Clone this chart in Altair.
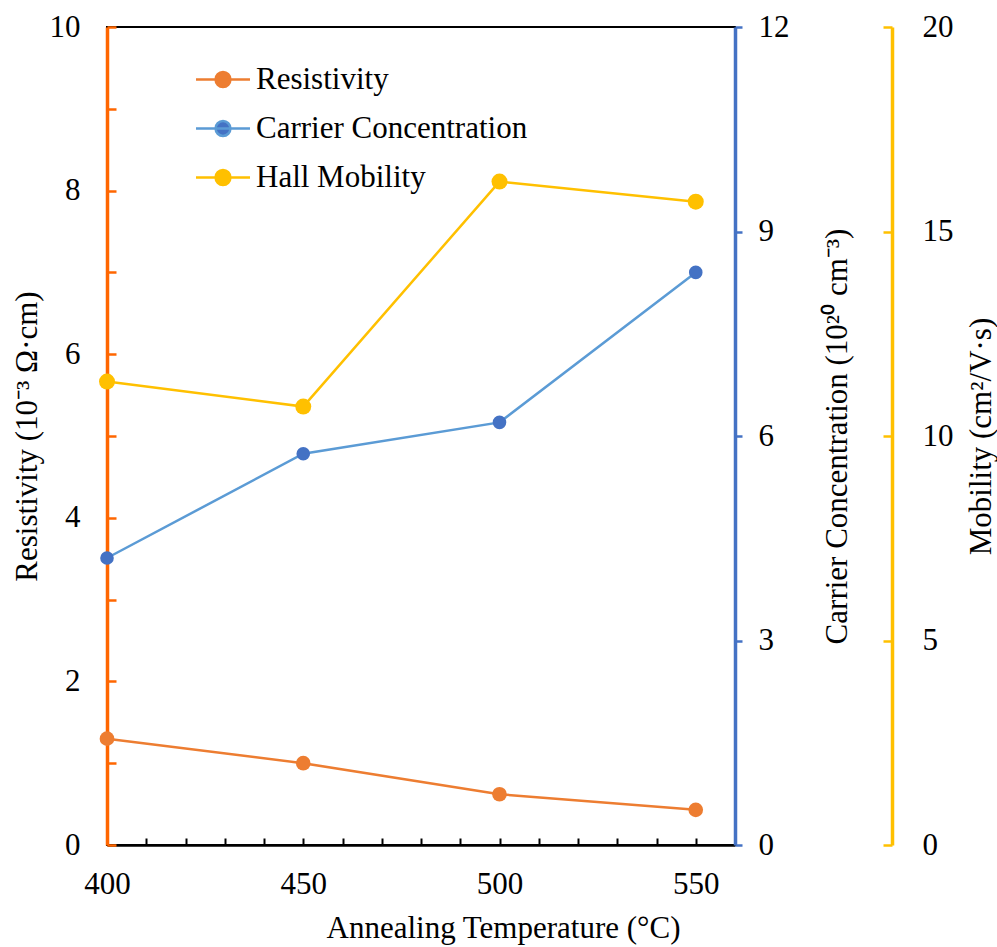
import altair as alt
import pandas as pd

temps = [400, 450, 500, 550]
resistivity = [1.30, 1.00, 0.62, 0.43]
carrier = [4.21, 5.74, 6.20, 8.40]
mobility = [11.33, 10.72, 16.22, 15.73]

series_names = ["Resistivity", "Carrier Concentration", "Hall Mobility"]
line_colors = ["#ED7D31", "#5B9BD5", "#FFC000"]
marker_colors = ["#ED7D31", "#4472C4", "#FFC000"]

x_ticks = list(range(400, 561, 10))
res_ticks = list(range(0, 11))
car_ticks = [0, 3, 6, 9, 12]
mob_ticks = [0, 5, 10, 15, 20]

rows = []
for name, vals in zip(series_names, [resistivity, carrier, mobility]):
    for t, v in zip(temps, vals):
        rows.append({"temp": t, "value": v, "series": name})
df = pd.DataFrame(rows)

FONT = "Liberation Serif"
FS = 31

legend = alt.Legend(
    title=None,
    orient="none",
    legendX=100.5,
    legendY=37,
    padding=0,
    symbolType="M-2,0L2,0M0.55,0A0.55,0.55,0,1,1,-0.55,0A0.55,0.55,0,1,1,0.55,0Z",
    symbolSize=729,
    symbolStrokeWidth=2.5,
    symbolOffset=0,
    labelOffset=17.5,
    labelFont=FONT,
    labelFontSize=FS,
    labelColor="black",
    rowPadding=17,
    labelLimit=400,
)

stroke_enc = alt.Stroke(
    "series:N", scale=alt.Scale(domain=series_names, range=line_colors), legend=legend
)
fill_enc = alt.Fill(
    "series:N", scale=alt.Scale(domain=series_names, range=marker_colors), legend=legend
)

x_enc = alt.X(
    "temp:Q",
    scale=alt.Scale(domain=[400, 560], nice=False, zero=False),
    axis=alt.Axis(
        title="Annealing Temperature (°C)",
        values=x_ticks,
        labelExpr="datum.value % 50 == 0 ? datum.label : ''",
        labelFlush=False,
        labelOverlap=False,
        grid=False,
        domainColor="black",
        domainWidth=2.5,
        tickColor="black",
        tickWidth=2,
        tickSize={"expr": "-7"},
        labelPadding=31,
        labelFont=FONT,
        labelFontSize=FS,
        labelColor="black",
        titleFont=FONT,
        titleFontSize=FS,
        titleFontWeight="normal",
        titleColor="black",
        titleX=396,
        titleY=92,
        titleAlign="center",
        titleBaseline="alphabetic",
    ),
)


def y_enc(domain, ticks, title, orient, col, tick_size, pad, title_x, offset=0, label_expr=None):
    kw = dict(
        title=title,
        orient=orient,
        values=ticks,
        labelOverlap=False,
        grid=False,
        domainColor=col,
        domainWidth=3.5,
        tickColor=col,
        tickWidth=2.5,
        tickSize=tick_size,
        labelPadding=pad,
        labelFont=FONT,
        labelFontSize=FS,
        labelColor="black",
        labelFlush=False,
        titleFont=FONT,
        titleFontSize=FS,
        titleFontWeight="normal",
        titleColor="black",
        titleAngle=270,
        titleX=title_x,
        titleY=409,
        titleAlign="center",
        titleBaseline="middle",
        offset=offset,
    )
    if label_expr:
        kw["labelExpr"] = label_expr
    return alt.Y(
        "value:Q",
        scale=alt.Scale(domain=domain, nice=False, zero=True),
        axis=alt.Axis(**kw),
    )


def series_layer(name, yenc, pt_size):
    base = alt.Chart(df).transform_filter(alt.datum.series == name)
    line = base.mark_line(strokeWidth=2.5).encode(x=x_enc, y=yenc, stroke=stroke_enc)
    pts = base.mark_point(filled=True, size=pt_size, opacity=1, strokeWidth=0).encode(
        x=x_enc, y=yenc, fill=fill_enc
    )
    return alt.layer(line, pts)


y_res = y_enc([0, 10], res_ticks, "Resistivity (10⁻³ Ω·cm)", "left", "#FF6600",
              {"expr": "-9"}, 36, -80,
              label_expr="datum.value % 2 == 0 ? datum.label : ''")
y_car = y_enc([0, 12], car_ticks, "Carrier Concentration (10²⁰ cm⁻³)", "right", "#4472C4",
              7, 16, 102.5)
y_mob = y_enc([0, 20], mob_ticks, "Mobility (cm²/V·s)", "right", "#FFC000",
              {"expr": "-9"}, 39, 89, offset=157)

chart = alt.layer(
    series_layer("Resistivity", y_res, 215),
    series_layer("Carrier Concentration", y_car, 185),
    series_layer("Hall Mobility", y_mob, 256),
).resolve_scale(y="independent").properties(
    width=628,
    height=818,
    autosize=alt.AutoSizeParams(type="none"),
    padding={"left": 107, "top": 27, "right": 262, "bottom": 102},
    background="white",
).configure_view(stroke="black", strokeWidth=2)

chart.save("out.html", embed_options={"renderer": "svg", "actions": False})
